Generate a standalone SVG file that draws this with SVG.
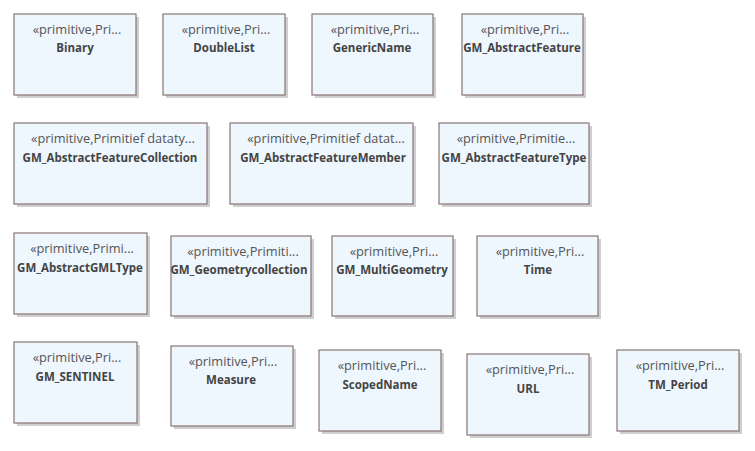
<svg xmlns="http://www.w3.org/2000/svg" width="755" height="451" viewBox="0 0 755 451">
<style>
.sh{fill:#cfcfcf}
.bx{fill:#eef6fe;stroke:#8a7474;stroke-width:1.2}
.st{font-family:"Open Sans","Liberation Sans",sans-serif;font-size:12.8px;fill:#555;text-anchor:middle}
.nm{font-family:"Open Sans","Liberation Sans",sans-serif;font-size:11.5px;font-weight:bold;fill:#444;text-anchor:middle}
</style>
<rect width="755" height="451" fill="#fff"/>
<g id="Binary"><rect class="sh" x="17" y="17" width="122" height="81"/><rect class="bx" x="14" y="14" width="122" height="81"/><text class="st" x="77" y="34">«primitive,Pri...</text><text class="nm" x="75" y="52">Binary</text></g>
<g id="DoubleList"><rect class="sh" x="166" y="17" width="122" height="81"/><rect class="bx" x="163" y="14" width="122" height="81"/><text class="st" x="226" y="34">«primitive,Pri...</text><text class="nm" x="224" y="52">DoubleList</text></g>
<g id="GenericName"><rect class="sh" x="315" y="17" width="121" height="81"/><rect class="bx" x="312" y="14" width="121" height="81"/><text class="st" x="375" y="34">«primitive,Pri...</text><text class="nm" x="372" y="52">GenericName</text></g>
<g id="GM_AbstractFeature"><rect class="sh" x="465" y="17" width="121" height="81"/><rect class="bx" x="462" y="14" width="121" height="81"/><text class="st" x="525" y="34">«primitive,Pri...</text><text class="nm" x="522" y="52">GM_AbstractFeature</text></g>
<g id="GM_AbstractFeatureCollection"><rect class="sh" x="17" y="126" width="193" height="81"/><rect class="bx" x="14" y="123" width="193" height="81"/><text class="st" x="113" y="143">«primitive,Primitief dataty...</text><text class="nm" x="110" y="162">GM_AbstractFeatureCollection</text></g>
<g id="GM_AbstractFeatureMember"><rect class="sh" x="233" y="126" width="183" height="81"/><rect class="bx" x="230" y="123" width="183" height="81"/><text class="st" x="326" y="143">«primitive,Primitief datat...</text><text class="nm" x="323" y="162">GM_AbstractFeatureMember</text></g>
<g id="GM_AbstractFeatureType"><rect class="sh" x="442" y="126" width="150" height="81"/><rect class="bx" x="439" y="123" width="150" height="81"/><text class="st" x="516" y="143">«primitive,Primitie...</text><text class="nm" x="514" y="162">GM_AbstractFeatureType</text></g>
<g id="GM_AbstractGMLType"><rect class="sh" x="17" y="236" width="133" height="81"/><rect class="bx" x="14" y="233" width="133" height="81"/><text class="st" x="82" y="253">«primitive,Primi...</text><text class="nm" x="80" y="272">GM_AbstractGMLType</text></g>
<g id="GM_Geometrycollection"><rect class="sh" x="174" y="239" width="140" height="80"/><rect class="bx" x="171" y="236" width="140" height="80"/><text class="st" x="243" y="256">«primitive,Primiti...</text><text class="nm" x="239" y="274">GM_Geometrycollection</text></g>
<g id="GM_MultiGeometry"><rect class="sh" x="335" y="239" width="121" height="80"/><rect class="bx" x="332" y="236" width="121" height="80"/><text class="st" x="394" y="256">«primitive,Pri...</text><text class="nm" x="392" y="274">GM_MultiGeometry</text></g>
<g id="Time"><rect class="sh" x="480" y="239" width="121" height="80"/><rect class="bx" x="477" y="236" width="121" height="80"/><text class="st" x="540" y="256">«primitive,Pri...</text><text class="nm" x="538" y="274">Time</text></g>
<g id="GM_SENTINEL"><rect class="sh" x="17" y="345" width="123" height="81"/><rect class="bx" x="14" y="342" width="123" height="81"/><text class="st" x="77" y="362">«primitive,Pri...</text><text class="nm" x="75" y="381">GM_SENTINEL</text></g>
<g id="Measure"><rect class="sh" x="174" y="349" width="122" height="80"/><rect class="bx" x="171" y="346" width="122" height="80"/><text class="st" x="233" y="366">«primitive,Pri...</text><text class="nm" x="231" y="384">Measure</text></g>
<g id="ScopedName"><rect class="sh" x="322" y="353" width="122" height="81"/><rect class="bx" x="319" y="350" width="122" height="81"/><text class="st" x="382" y="370">«primitive,Pri...</text><text class="nm" x="380" y="389">ScopedName</text></g>
<g id="URL"><rect class="sh" x="470" y="357" width="122" height="81"/><rect class="bx" x="467" y="354" width="122" height="81"/><text class="st" x="530" y="374">«primitive,Pri...</text><text class="nm" x="528" y="393">URL</text></g>
<g id="TM_Period"><rect class="sh" x="620" y="353" width="122" height="81"/><rect class="bx" x="617" y="350" width="122" height="81"/><text class="st" x="680" y="370">«primitive,Pri...</text><text class="nm" x="678" y="389">TM_Period</text></g>
<g id="connectors"></g>
</svg>
